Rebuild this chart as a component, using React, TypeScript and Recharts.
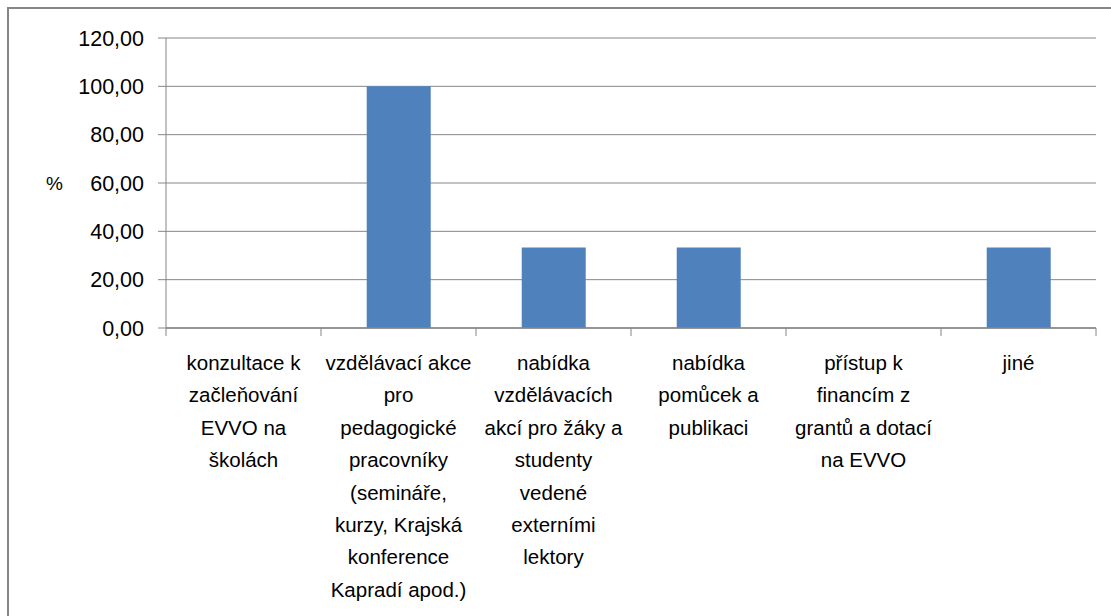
import React from "react";
import { BarChart, Bar, XAxis, YAxis, CartesianGrid } from "recharts";

const categories = [
  "konzultace k\nzačleňování\nEVVO na\nškolách",
  "vzdělávací akce\npro\npedagogické\npracovníky\n(semináře,\nkurzy, Krajská\nkonference\nKapradí apod.)",
  "nabídka\nvzdělávacích\nakcí pro žáky a\nstudenty\nvedené\nexterními\nlektory",
  "nabídka\npomůcek a\npublikaci",
  "přístup k\nfinancím z\ngrantů a dotací\nna EVVO",
  "jiné",
];
const values = [0, 100, 33.33, 33.33, 0, 33.33];
const yTicks = [0, 20, 40, 60, 80, 100, 120];
const yLabel = "%";

const data = categories.map((c, i) => ({ name: c, value: values[i] }));

const FONT = "'Liberation Sans', Arial, sans-serif";

const CategoryTick = (props: any) => {
  const { x, y, payload, index, visibleTicksCount } = props;
  const off = payload.offset || 0;
  const axisY = y - 10;
  const lines = String(payload.value).split("\n");
  return (
    <g>
      <line x1={x - off} x2={x - off} y1={axisY} y2={axisY + 8} stroke="#868686" strokeWidth={1} />
      {index === visibleTicksCount - 1 && (
        <line x1={x + off} x2={x + off} y1={axisY} y2={axisY + 8} stroke="#868686" strokeWidth={1} />
      )}
      <text x={x} y={axisY + 42} textAnchor="middle" fontFamily={FONT} fontSize={20.5} fill="#000">
        {lines.map((l, i) => (
          <tspan key={i} x={x} dy={i === 0 ? 0 : 32.4}>
            {l}
          </tspan>
        ))}
      </text>
    </g>
  );
};

export default function App() {
  return (
    <div style={{ position: "absolute", left: 0, top: 0, width: 1111, height: 616, overflow: "hidden", background: "#fff" }}>
      <div
        style={{
          position: "absolute",
          left: 7,
          top: 7,
          width: 1130,
          height: 640,
          border: "2px solid #868686",
          boxSizing: "border-box",
        }}
      />
      <div style={{ position: "absolute", left: 0, top: 0 }}>
        <BarChart
          width={1111}
          height={616}
          data={data}
          margin={{ top: 38, right: 15, left: 0, bottom: 0 }}
          barCategoryGap="29.5%"
        >
          <CartesianGrid vertical={false} stroke="#868686" strokeWidth={1} />
          <XAxis
            dataKey="name"
            height={288}
            axisLine={{ stroke: "#868686", strokeWidth: 1.5 }}
            tickLine={false}
            tick={<CategoryTick />}
            tickSize={0}
            tickMargin={10}
            interval={0}
          />
          <YAxis
            width={166}
            domain={[0, 120]}
            ticks={yTicks}
            interval={0}
            tickFormatter={(v: number) => v.toFixed(2).replace(".", ",")}
            axisLine={{ stroke: "#868686", strokeWidth: 1 }}
            tickLine={{ stroke: "#868686", strokeWidth: 1 }}
            tickSize={8}
            tickMargin={14}
            tick={{ fontFamily: FONT, fontSize: 21.5, fill: "#000" }}
            label={{ value: yLabel, position: "insideLeft", offset: 46, fontFamily: FONT, fontSize: 19, fill: "#000" }}
          />
          <Bar dataKey="value" fill="#4F81BD" isAnimationActive={false} />
        </BarChart>
      </div>
    </div>
  );
}
